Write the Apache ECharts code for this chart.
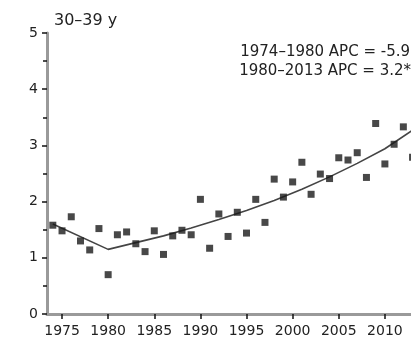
<!DOCTYPE html>
<html><head><meta charset="utf-8">
<script src="https://cdn.jsdelivr.net/npm/echarts@6/dist/echarts.min.js"></script>
<style>html,body{margin:0;padding:0;background:#fff}#c{width:411px;height:344px}</style>
</head><body><div id="c"></div>
<script>
const years = [1974,1975,1976,1977,1978,1979,1980,1981,1982,1983,1984,1985,1986,1987,1988,1989,1990,1991,1992,1993,1994,1995,1996,1997,1998,1999,2000,2001,2002,2003,2004,2005,2006,2007,2008,2009,2010,2011,2012,2013];
const rates = [1.58,1.48,1.73,1.30,1.14,1.52,0.70,1.41,1.46,1.25,1.11,1.48,1.06,1.39,1.49,1.41,2.04,1.17,1.78,1.38,1.81,1.44,2.04,1.63,2.40,2.08,2.35,2.70,2.13,2.49,2.41,2.78,2.74,2.87,2.43,3.39,2.67,3.02,3.33,2.79];
const trendYears = [1974,1980,1983,1986,1989,1992,1995,1998,2001,2004,2007,2010,2013];
const trendValues = [1.60,1.15,1.27,1.39,1.53,1.68,1.84,2.02,2.22,2.44,2.68,2.94,3.27];
const xTickLabels = [1975,1980,1985,1990,1995,2000,2005,2010];
const yTickLabels = [0,1,2,3,4,5];
const titleText = '30\u201339 y';
const apcLines = ['1974\u20131980 APC = -5.9', '1980\u20132013 APC = 3.2*'];

const chart = echarts.init(document.getElementById('c'), null, {renderer:'canvas'});
const font = '"DejaVu Sans", sans-serif';
chart.setOption({
  animation:false,
  backgroundColor:'#fff',
  grid:{left:47,top:33,bottom:30,right:0,containLabel:false},
  title:{text:titleText,left:49,top:8,textStyle:{fontFamily:font,fontSize:16,fontWeight:'normal',color:'#222'}},
  graphic:[
    {type:'text',right:1,top:45,style:{text:apcLines[0],fontFamily:font,fontSize:15,fill:'#222',textAlign:'right'}},
    {type:'text',right:0,top:64,style:{text:apcLines[1],fontFamily:font,fontSize:15,fill:'#222',textAlign:'right'}}
  ],
  xAxis:{type:'value',min:1973.37,max:2012.83,
    axisLine:{show:true,lineStyle:{color:'#9a9a9a',width:3}},
    axisTick:{show:true,customValues:xTickLabels,length:5,lineStyle:{color:'#111',width:1.5}},
    axisLabel:{customValues:xTickLabels,fontFamily:font,fontSize:14,color:'#222',margin:10,formatter:v=>String(v)},
    splitLine:{show:false}},
  yAxis:{type:'value',min:0,max:5,interval:1,
    axisLine:{show:true,lineStyle:{color:'#9a9a9a',width:3}},
    axisTick:{show:true,length:5,lineStyle:{color:'#111',width:1.5}},
    minorTick:{show:true,splitNumber:2,length:4,lineStyle:{color:'#111',width:1.5}},
    axisLabel:{fontFamily:font,fontSize:14,color:'#222',margin:9,formatter:v=>yTickLabels.includes(v)?String(v):''},
    splitLine:{show:false}},
  series:[
    {type:'line',data:trendYears.map((y,i)=>[y,trendValues[i]]),smooth:false,symbol:'none',
     lineStyle:{color:'#444',width:1.6},z:2,clip:false},
    {type:'scatter',data:years.map((y,i)=>[y,rates[i]]),symbol:'rect',symbolSize:7,
     itemStyle:{color:'#1a1a1a'},z:3,clip:false}
  ]
});
</script></body></html>
